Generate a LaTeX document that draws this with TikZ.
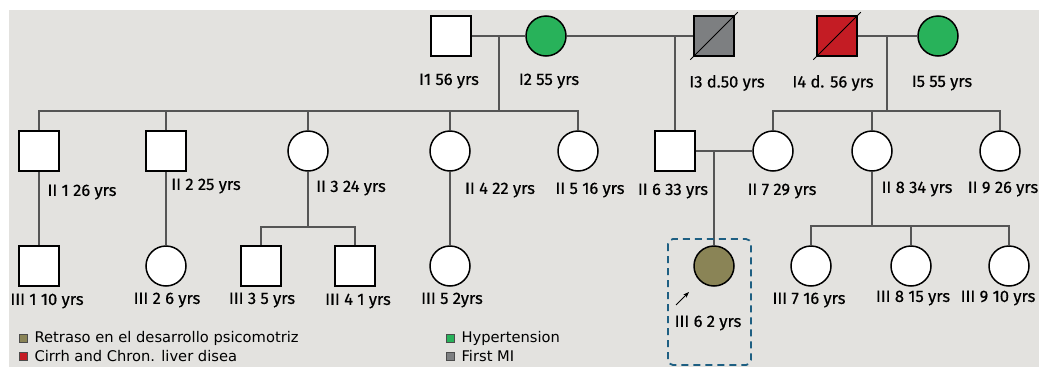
\documentclass[tikz,border=0pt]{standalone}
\usepackage{fontspec}
\setmainfont{Fira Sans}
\newfontfamily\labfont{Fira Sans}[FakeBold=0.6]
\newfontfamily\legfont{DejaVu Sans}
\usetikzlibrary{arrows.meta, positioning}
\definecolor{colorbg}{RGB}{227,226,223}
\definecolor{colorhyp}{RGB}{40,178,90}
\definecolor{colormi}{RGB}{125,127,129}
\definecolor{colorliv}{RGB}{196,28,36}
\definecolor{colorpsi}{RGB}{138,132,86}
\definecolor{colorline}{RGB}{85,85,85}
\definecolor{colorbox}{RGB}{30,95,130}

\begin{document}
\begin{tikzpicture}[x=1pt, y=-1pt,
    male/.style={draw=black, line width=1.5pt, fill=white, minimum size=40pt, inner sep=0pt},
    female/.style={male, circle},
    lab/.style={font=\labfont\fontsize{16.5}{19}\selectfont, inner sep=0pt},
    legbox/.style={draw=black!70, line width=0.8pt, minimum size=8pt, inner sep=0pt},
    legtext/.style={font=\legfont\fontsize{14.7}{17}\selectfont, inner sep=0pt},
    link/.style={colorline, line width=1.2pt}]
            \useasboundingbox (0,0) rectangle (1039,367);
            \fill[colorbg] (9,10) rectangle (1039,367);
            % generation I
            \node[male] (i1) at (451,36) {};
            \node[female, fill=colorhyp] (i2) at (546,36) {};
            \node[male, fill=colormi] (i3) at (714,36) {};
            \node[male, fill=colorliv] (i4) at (837,36) {};
            \node[female, fill=colorhyp] (i5) at (938,36) {};
            \draw[line width=1pt] ([shift={(-3,3)}]i3.south west) -- ([shift={(3,-3)}]i3.north east);
            \draw[line width=1pt] ([shift={(-3,3)}]i4.south west) -- ([shift={(3,-3)}]i4.north east);
            \node[lab] (i1l) at (449,81) {I1 56 yrs};
            \node[lab] (i2l) at (549,81) {I2 55 yrs};
            \node[lab] (i3l) at (727,83) {I3 d.50 yrs};
            \node[lab] (i4l) at (833,83) {I4 d. 56 yrs};
            \node[lab] (i5l) at (942,83) {I5 55 yrs};
            % generation II
            \node[male] (ii1) at (39,151) {};
            \node[male] (ii2) at (166,151) {};
            \node[female] (ii3) at (308,151) {};
            \node[female] (ii4) at (450,151) {};
            \node[female] (ii5) at (578,151) {};
            \node[male] (ii6) at (675,151) {};
            \node[female] (ii7) at (773,151) {};
            \node[female] (ii8) at (872,151) {};
            \node[female] (ii9) at (1000,151) {};
            \node[lab] (ii1l) at (82,192) {II 1 26 yrs};
            \node[lab] (ii2l) at (206,186) {II 2 25 yrs};
            \node[lab] (ii3l) at (351,188) {II 3 24 yrs};
            \node[lab] (ii4l) at (500,190) {II 4 22 yrs};
            \node[lab] (ii5l) at (590,190) {II 5 16 yrs};
            \node[lab] (ii6l) at (673,191) {II 6 33 yrs};
            \node[lab] (ii7l) at (782,191) {II 7 29 yrs};
            \node[lab] (ii8l) at (917,189) {II 8 34 yrs};
            \node[lab] (ii9l) at (1003,189) {II 9 26 yrs};
            % generation III
            \node[male] (iii1) at (39,266) {};
            \node[female] (iii2) at (166,266) {};
            \node[male] (iii3) at (261,266) {};
            \node[male] (iii4) at (355,266) {};
            \node[female] (iii5) at (450,266) {};
            \node[female, fill=colorpsi] (iii6) at (714,266) {};
            \node[female] (iii7) at (811,266) {};
            \node[female] (iii8) at (911,266) {};
            \node[female] (iii9) at (1009,266) {};
            \node[lab] (iii1l) at (47,301) {III 1 10 yrs};
            \node[lab] (iii2l) at (167,300) {III 2 6 yrs};
            \node[lab] (iii3l) at (262,300) {III 3 5 yrs};
            \node[lab] (iii4l) at (358,301) {III 4 1 yrs};
            \node[lab] (iii5l) at (452,300) {III 5 2yrs};
            \node[lab] (iii6l) at (708,323) {III 6 2 yrs};
            \node[lab] (iii7l) at (809,300) {III 7 16 yrs};
            \node[lab] (iii8l) at (913,298) {III 8 15 yrs};
            \node[lab] (iii9l) at (998,298) {III 9 10 yrs};
            % lines
            \coordinate (m12) at (499,36);
            \coordinate (s12) at (499,111);
            \coordinate (m45) at (887,36);
            \coordinate (s45) at (887,111);
            \coordinate (s3) at (308,227);
            \coordinate (s8) at (872,226);
            \draw[link] (i1) -- (i2);
            \draw[link] (i2) -- (i3);
            \draw[link] (i4) -- (i5);
            \draw[link] (m12) -- (s12);
            \draw[link] (ii1.north) |- (s12) -| (ii5.north);
            \draw[link] (ii2.north) -- (ii2 |- s12);
            \draw[link] (ii3.north) -- (ii3 |- s12);
            \draw[link] (ii4.north) -- (ii4 |- s12);
            \draw[link] (ii6.north) -- (ii6 |- i3);
            \draw[link] (m45) -- (s45);
            \draw[link] (ii7.north) |- (s45) -| (ii9.north);
            \draw[link] (ii8.north) -- (ii8 |- s45);
            \draw[link] (ii6) -- (ii7);
            \draw[link] (iii6.north) -- (iii6 |- ii6);
            \draw[link] (ii1) -- (iii1);
            \draw[link] (ii2) -- (iii2);
            \draw[link] (ii3) -- (s3);
            \draw[link] (iii3.north) |- (s3) -| (iii4.north);
            \draw[link] (ii4) -- (iii5);
            \draw[link] (ii8) -- (s8);
            \draw[link] (iii7.north) |- (s8) -| (iii9.north);
            \draw[link] (iii8.north) -- (iii8 |- s8);
            % proband
            \draw[colorbox, line width=1.8pt, dash pattern=on 7pt off 5pt, rounded corners=5pt] (668,239) rectangle (751,365);
            \coordinate (pa) at (676,305);
            \coordinate (pb) at (689,292);
            \draw[-{Stealth[length=6pt]}, line width=1pt] (pa) -- (pb);
            % legend
            \node[legbox, fill=colorpsi] (k1) at (23,338) {};
            \node[legtext, right=7pt of k1] (k1t) {Retraso en el desarrollo psicomotriz};
            \node[legbox, fill=colorliv] (k2) at (23,356) {};
            \node[legtext, right=7pt of k2] (k2t) {Cirrh and Chron. liver disea};
            \node[legbox, fill=colorhyp] (k3) at (450,338) {};
            \node[legtext, right=7pt of k3] (k3t) {Hypertension};
            \node[legbox, fill=colormi] (k4) at (450,356) {};
            \node[legtext, right=7pt of k4] (k4t) {First MI};
		\end{tikzpicture}
\end{document}
